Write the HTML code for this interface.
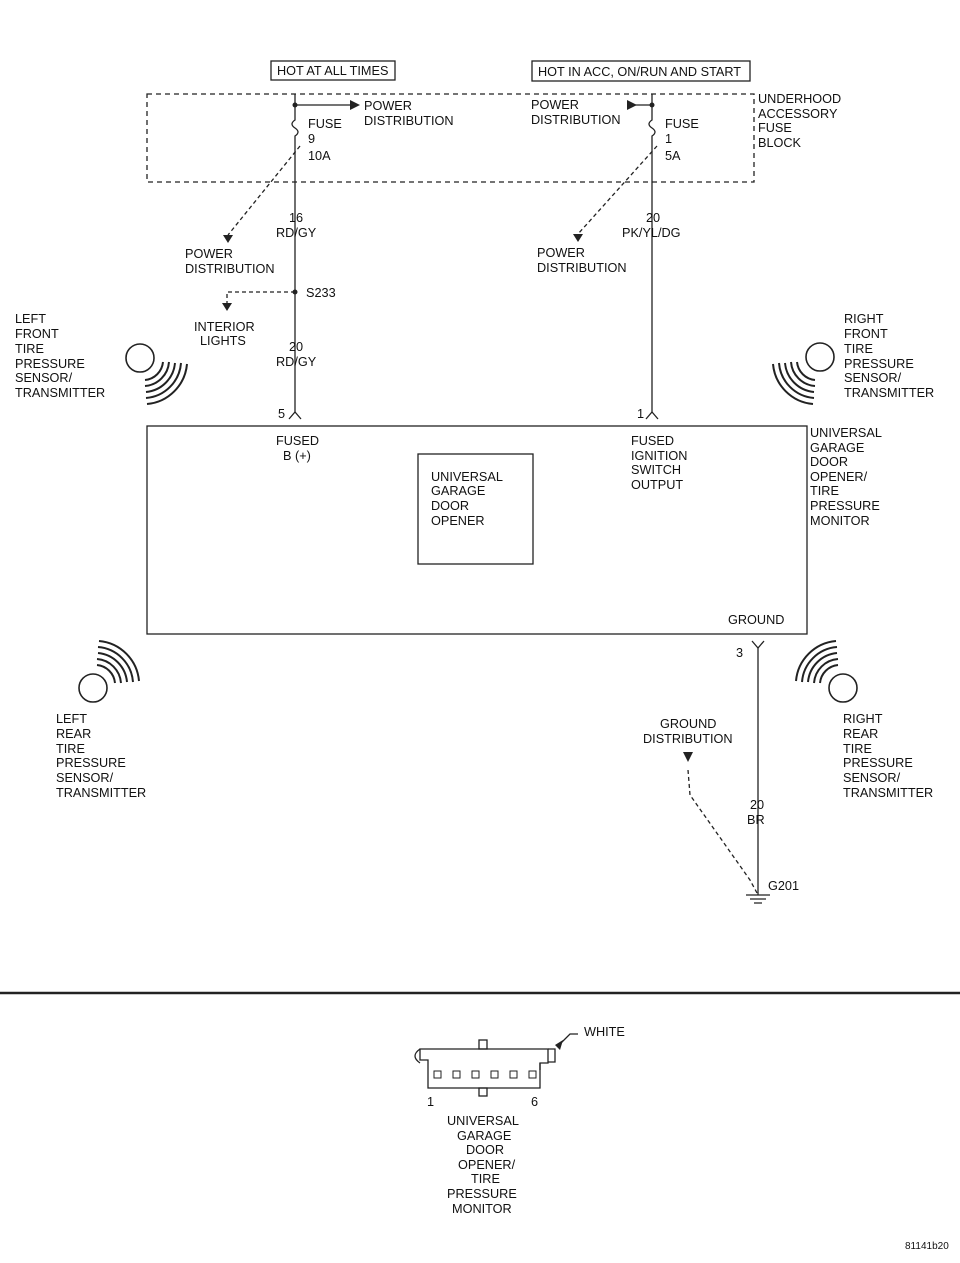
<!DOCTYPE html>
<html><head><meta charset="utf-8"><style>
body{margin:0;background:#fff}
svg text{font-family:"Liberation Sans",sans-serif;font-size:12.7px;fill:#111}
</style></head><body>
<svg width="960" height="1258" viewBox="0 0 960 1258" xmlns="http://www.w3.org/2000/svg">
<g stroke="#222" fill="none" stroke-width="1.3">
<rect x="271" y="61" width="124" height="19"/>
<rect x="532" y="61" width="218" height="20"/>
<rect x="147" y="94" width="607" height="88" stroke-dasharray="5,4"/>
<path d="M295 94 V120 q-6 4 0 8 q6 4 0 8 V412"/>
<path d="M295 105 H350"/>
<path d="M652 94 V120 q-6 4 0 8 q6 4 0 8 V412"/>
<path d="M632 105 H652"/>
<path d="M300 146 L228 235" stroke-dasharray="4,3"/>
<path d="M657 146 L578 234" stroke-dasharray="4,3"/>
<path d="M295 292 H227 V303" stroke-dasharray="4,3"/>
<path d="M289 419 L295 412 L301 419"/>
<path d="M646 419 L652 412 L658 419"/>
<path d="M752 641 L758 648 L764 641"/>
<rect x="147" y="426" width="660" height="208"/>
<rect x="418" y="454" width="115" height="110"/>
<path d="M758 648 V895"/>
<path d="M688 770 L690 795 L750 880 L757 893" stroke-dasharray="4,3"/>
<path d="M746 895 H770 M750 899 H766 M754 903 H762"/>
<circle cx="140" cy="358" r="14" stroke-width="1.6"/>
<circle cx="820" cy="357" r="14" stroke-width="1.6"/>
<circle cx="93" cy="688" r="14" stroke-width="1.6"/>
<circle cx="843" cy="688" r="14" stroke-width="1.6"/>
<g stroke-width="2">
<path d="M163 362 A20 20 0 0 1 145 380 M169 362 A26 26 0 0 1 145 386 M175 363 A32 32 0 0 1 146 392 M181 363 A38 38 0 0 1 146 398 M187 364 A44 44 0 0 1 147 404"/>
<path d="M797 362 A20 20 0 0 0 815 380 M791 362 A26 26 0 0 0 815 386 M785 363 A32 32 0 0 0 814 392 M779 363 A38 38 0 0 0 814 398 M773 364 A44 44 0 0 0 813 404"/>
<path d="M115 683 A20 20 0 0 0 97 665 M121 683 A26 26 0 0 0 97 659 M127 682 A32 32 0 0 0 98 653 M133 682 A38 38 0 0 0 98 647 M139 681 A44 44 0 0 0 99 641"/>
<path d="M820 683 A20 20 0 0 1 838 665 M814 683 A26 26 0 0 1 838 659 M808 682 A32 32 0 0 1 837 653 M802 682 A38 38 0 0 1 837 647 M796 681 A44 44 0 0 1 836 641"/>
</g>
<path d="M0 993 H960" stroke-width="2.5"/>
<path d="M420 1049 H548 V1063 H540 V1088 H428 V1060 H420 Z"/>
<path d="M420 1049 Q410 1056 420 1063"/>
<rect x="479" y="1040" width="8" height="9"/>
<rect x="479" y="1088" width="8" height="8"/>
<path d="M548 1049 H555 V1062 H548 M540 1063 V1070"/>
<path d="M558 1046 L570 1034 H578"/>
</g>
<g fill="#222">
<circle cx="295" cy="105" r="2.5"/><circle cx="652" cy="105" r="2.5"/><circle cx="295" cy="292" r="2.5"/>
<polygon points="350,100 360,105 350,110"/>
<polygon points="627,100 637,105 627,110"/>
<polygon points="223,235 233,235 228,243"/>
<polygon points="573,234 583,234 578,242"/>
<polygon points="222,303 232,303 227,311"/>
<polygon points="683,752 693,752 688,762"/>
<polygon points="555,1045 563,1040 560,1050"/>
<rect x="434" y="1071" width="7" height="7" fill="none" stroke="#222"/>
<rect x="453" y="1071" width="7" height="7" fill="none" stroke="#222"/>
<rect x="472" y="1071" width="7" height="7" fill="none" stroke="#222"/>
<rect x="491" y="1071" width="7" height="7" fill="none" stroke="#222"/>
<rect x="510" y="1071" width="7" height="7" fill="none" stroke="#222"/>
<rect x="529" y="1071" width="7" height="7" fill="none" stroke="#222"/>
</g>
<g>
<text x="277" y="75">HOT AT ALL TIMES</text>
<text x="538" y="76">HOT IN ACC, ON/RUN AND START</text>
<text x="364" y="110">POWER</text><text x="364" y="125">DISTRIBUTION</text>
<text x="531" y="109">POWER</text><text x="531" y="124">DISTRIBUTION</text>
<text x="308" y="128">FUSE</text><text x="308" y="143">9</text><text x="308" y="160">10A</text>
<text x="665" y="128">FUSE</text><text x="665" y="143">1</text><text x="665" y="160">5A</text>
<text x="758" y="103">UNDERHOOD</text><text x="758" y="118">ACCESSORY</text><text x="758" y="132">FUSE</text><text x="758" y="147">BLOCK</text>
<text x="289" y="222">16</text><text x="276" y="237">RD/GY</text>
<text x="646" y="222">20</text><text x="622" y="237">PK/YL/DG</text>
<text x="185" y="258">POWER</text><text x="185" y="273">DISTRIBUTION</text>
<text x="537" y="257">POWER</text><text x="537" y="272">DISTRIBUTION</text>
<text x="306" y="297">S233</text>
<text x="194" y="331">INTERIOR</text><text x="200" y="345">LIGHTS</text>
<text x="289" y="351">20</text><text x="276" y="366">RD/GY</text>
<text x="15" y="323">LEFT</text><text x="15" y="338">FRONT</text><text x="15" y="353">TIRE</text><text x="15" y="368">PRESSURE</text><text x="15" y="382">SENSOR/</text><text x="15" y="397">TRANSMITTER</text>
<text x="844" y="323">RIGHT</text><text x="844" y="338">FRONT</text><text x="844" y="353">TIRE</text><text x="844" y="368">PRESSURE</text><text x="844" y="382">SENSOR/</text><text x="844" y="397">TRANSMITTER</text>
<text x="278" y="418">5</text><text x="637" y="418">1</text>
<text x="276" y="445">FUSED</text><text x="283" y="460">B (+)</text>
<text x="631" y="445">FUSED</text><text x="631" y="460">IGNITION</text><text x="631" y="474">SWITCH</text><text x="631" y="489">OUTPUT</text>
<text x="431" y="481">UNIVERSAL</text><text x="431" y="495">GARAGE</text><text x="431" y="510">DOOR</text><text x="431" y="525">OPENER</text>
<text x="810" y="437">UNIVERSAL</text><text x="810" y="452">GARAGE</text><text x="810" y="466">DOOR</text><text x="810" y="481">OPENER/</text><text x="810" y="495">TIRE</text><text x="810" y="510">PRESSURE</text><text x="810" y="525">MONITOR</text>
<text x="728" y="624">GROUND</text>
<text x="736" y="657">3</text>
<text x="56" y="723">LEFT</text><text x="56" y="738">REAR</text><text x="56" y="753">TIRE</text><text x="56" y="767">PRESSURE</text><text x="56" y="782">SENSOR/</text><text x="56" y="797">TRANSMITTER</text>
<text x="843" y="723">RIGHT</text><text x="843" y="738">REAR</text><text x="843" y="753">TIRE</text><text x="843" y="767">PRESSURE</text><text x="843" y="782">SENSOR/</text><text x="843" y="797">TRANSMITTER</text>
<text x="660" y="728">GROUND</text><text x="643" y="743">DISTRIBUTION</text>
<text x="750" y="809">20</text><text x="747" y="824">BR</text>
<text x="768" y="890">G201</text>
<text x="584" y="1036">WHITE</text>
<text x="427" y="1106">1</text><text x="531" y="1106">6</text>
<text x="447" y="1125">UNIVERSAL</text><text x="457" y="1140">GARAGE</text><text x="466" y="1154">DOOR</text><text x="458" y="1169">OPENER/</text><text x="471" y="1183">TIRE</text><text x="447" y="1198">PRESSURE</text><text x="452" y="1213">MONITOR</text>
<text x="905" y="1249" style="font-size:10px">81141b20</text>
</g>
</svg>
</body></html>
